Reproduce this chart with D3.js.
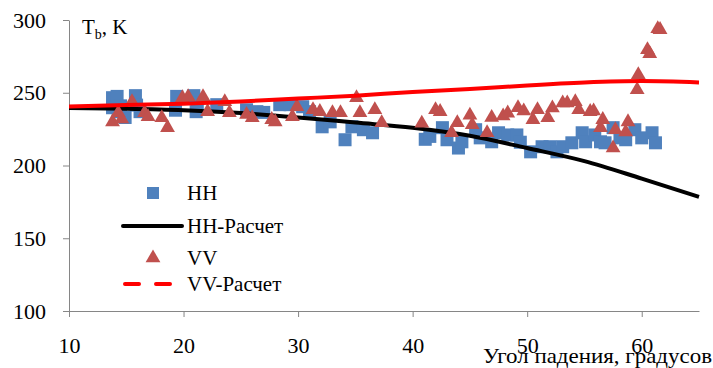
<!DOCTYPE html>
<html>
<head>
<meta charset="utf-8">
<script src="https://cdn.jsdelivr.net/npm/d3@7"></script>
<style>
  body { margin: 0; background: #fff; }
  svg text { font-family: "Liberation Serif", "Times New Roman", serif; fill: #000; }
</style>
</head>
<body>
<div class="outer-container"></div>
<script>
// measured HH points (angle, Tb)
const hhAngle = [13.8, 14.2, 13.8, 14.5, 14.3, 14.9, 15.8, 15.9, 16.2, 19.4, 19.3, 20.9, 21.2, 21.1, 22.9, 25.5, 26.4, 27.0, 28.4, 29.3, 30.4, 31.0, 32.1, 32.8, 34.1, 34.7, 35.7, 36.5, 41.1, 41.5, 42.6, 43.0, 44.0, 44.3, 45.5, 45.9, 46.9, 47.5, 48.3, 49.1, 49.4, 50.3, 51.3, 52.0, 52.6, 53.1, 53.9, 54.8, 55.1, 55.9, 56.4, 56.8, 57.5, 58.1, 58.6, 59.4, 60.0, 60.9, 61.2]
const hhValue = [246.6, 247.5, 239.7, 241, 237, 233, 248, 241.5, 237, 247.5, 238, 248, 243, 237, 241.8, 238.3, 237, 236.5, 241.8, 241.8, 240.4, 237, 226.6, 230, 217.7, 226.6, 224.6, 222.5, 218, 220, 226, 217.7, 212, 216.3, 224.6, 219, 216.3, 222.5, 221, 221, 216, 209.4, 212.9, 212.9, 209.4, 212.9, 215.6, 222.5, 216.3, 221, 216.3, 215.6, 226, 219, 217.7, 224.6, 219, 222.5, 215.6]

// measured VV points
const vvAngle = [13.8, 14.3, 14.6, 15.5, 16.6, 16.9, 18.1, 18.6, 19.9, 20.4, 21.7, 22.1, 23.6, 24.0, 25.5, 26.0, 27.7, 28.0, 29.5, 29.9, 31.3, 31.9, 33.0, 33.7, 35.1, 35.4, 36.7, 37.3, 40.8, 42.0, 42.4, 43.4, 43.9, 45.0, 45.2, 46.5, 46.9, 47.9, 48.3, 49.2, 49.7, 50.5, 50.9, 51.8, 52.2, 53.1, 53.5, 54.2, 54.5, 55.5, 55.8, 56.4, 56.6, 57.5, 57.7, 58.6, 58.8, 59.6, 59.7, 60.5, 60.7, 61.4, 61.6]
const vvValue = [230, 236.3, 232, 243.8, 236.3, 233.5, 232.8, 226, 246.6, 247.3, 247.3, 237, 243.8, 236.3, 235, 232.8, 231.5, 230, 233.5, 240.4, 238.3, 237, 236.3, 236.3, 246.6, 236.3, 238.3, 229.4, 229, 238.3, 237, 222.5, 229.4, 234.5, 228, 222.5, 233, 234, 236, 239.7, 237.5, 231.5, 238.3, 232.8, 239.5, 243, 243, 243.8, 238.3, 237, 237.5, 226, 231.5, 212, 224.6, 223, 230, 252, 262.4, 279.6, 276.9, 294, 293.4]

// calculated curves
const calcAngle = [10, 15, 20, 25, 30, 35, 40, 45, 50, 55, 60, 65]
const hhCalc = [239.5, 239, 238, 236, 233, 229.5, 226, 220.5, 212, 203, 191, 178.5]
const vvCalc = [240.5, 241.5, 242.5, 244, 246, 248, 250.5, 252.5, 255, 257, 258, 257]

const xTicks = [10, 20, 30, 40, 50, 60]
const yTicks = [100, 150, 200, 250, 300]

const legendLabels = ['HH', 'HH-Расчет', 'VV', 'VV-Расчет']

const w = 713
const h = 368
const blue = '#4f81bd'
const red = '#c0504d'
const axisColor = '#868686'
const serif = '"Liberation Serif", "Times New Roman", serif'

const xScale = d3.scaleLinear()
                 .domain([10, 65])
                 .range([69, 699])

const yScale = d3.scaleLinear()
                 .domain([100, 300])
                 .range([311, 20])

const svg = d3.select('.outer-container')
              .append('svg')
              .attr('width', w)
              .attr('height', h)

const xAxis = d3.axisBottom(xScale)
                .tickValues(xTicks)
                .tickSize(6)
                .tickSizeOuter(0)
                .tickPadding(20)

const yAxis = d3.axisLeft(yScale)
                .tickValues(yTicks)
                .tickSize(6)
                .tickSizeOuter(0)
                .tickPadding(17)

const gx = svg.append('g')
              .attr('transform', 'translate(0, ' + yScale(100) + ')')
              .call(xAxis)

const gy = svg.append('g')
              .attr('transform', 'translate(' + xScale(10) + ', 0)')
              .call(yAxis)

;[gx, gy].forEach(g => {
  g.attr('font-family', serif).attr('font-size', 22)
  g.select('.domain').attr('stroke', axisColor)
  g.selectAll('.tick line').attr('stroke', axisColor)
  g.selectAll('.tick text')
   .style('font-family', serif)
   .style('font-size', '22px')
   .attr('fill', '#000')
})

// HH squares
const hh = hhAngle.map((a, i) => [a, hhValue[i]])
svg.append('g')
   .selectAll('rect')
   .data(hh)
   .enter()
   .append('rect')
   .attr('x', d => xScale(d[0]) - 6.5)
   .attr('y', d => yScale(d[1]) - 6.5)
   .attr('width', 13)
   .attr('height', 13)
   .attr('fill', blue)

const line = d3.line()
               .x(d => xScale(d[0]))
               .y(d => yScale(d[1]))
               .curve(d3.curveMonotoneX)

svg.append('path')
   .datum(calcAngle.map((a, i) => [a, hhCalc[i]]))
   .attr('d', line)
   .attr('fill', 'none')
   .attr('stroke', '#000')
   .attr('stroke-width', 4)

// VV triangles
const tri = d3.symbol().type(d3.symbolTriangle).size(95)
const vv = vvAngle.map((a, i) => [a, vvValue[i]])
svg.append('g')
   .selectAll('path')
   .data(vv)
   .enter()
   .append('path')
   .attr('d', tri)
   .attr('transform', d => 'translate(' + xScale(d[0]) + ',' + yScale(d[1]) + ')')
   .attr('fill', red)

svg.append('path')
   .datum(calcAngle.map((a, i) => [a, vvCalc[i]]))
   .attr('d', line)
   .attr('fill', 'none')
   .attr('stroke', '#ff0000')
   .attr('stroke-width', 4)

// axis titles
const yTitle = svg.append('text')
                  .attr('x', 82)
                  .attr('y', 34)
                  .style('font-size', '21px')
yTitle.append('tspan').text('T')
yTitle.append('tspan').style('font-size', '14px').attr('dy', 5).text('b')
yTitle.append('tspan').attr('dy', -5).text(', K')

svg.append('text')
   .attr('x', 712)
   .attr('y', 363)
   .attr('text-anchor', 'end')
   .style('font-size', '21px')
   .attr('textLength', 229)
   .attr('lengthAdjust', 'spacingAndGlyphs')
   .text('Угол падения, градусов')

// legend
const legendY = [193, 226, 258, 284]
const legend = svg.append('g')

legend.append('rect')
      .attr('x', 147).attr('y', legendY[0] - 6)
      .attr('width', 12).attr('height', 12)
      .attr('fill', blue)

legend.append('line')
      .attr('x1', 123).attr('x2', 182)
      .attr('y1', legendY[1]).attr('y2', legendY[1])
      .attr('stroke', '#000')
      .attr('stroke-width', 4)
      .attr('stroke-linecap', 'round')

legend.append('path')
      .attr('d', tri)
      .attr('transform', 'translate(153,' + legendY[2] + ')')
      .attr('fill', red)

legend.append('line')
      .attr('x1', 125).attr('x2', 182)
      .attr('y1', legendY[3]).attr('y2', legendY[3])
      .attr('stroke', '#ff0000')
      .attr('stroke-width', 4)
      .attr('stroke-linecap', 'round')
      .attr('stroke-dasharray', '14,17')

legend.selectAll('text')
      .data(legendLabels)
      .enter()
      .append('text')
      .attr('x', 187)
      .attr('y', (d, i) => legendY[i])
      .attr('dy', '0.35em')
      .style('font-size', '21px')
      .text(d => d)
</script>
</body>
</html>
